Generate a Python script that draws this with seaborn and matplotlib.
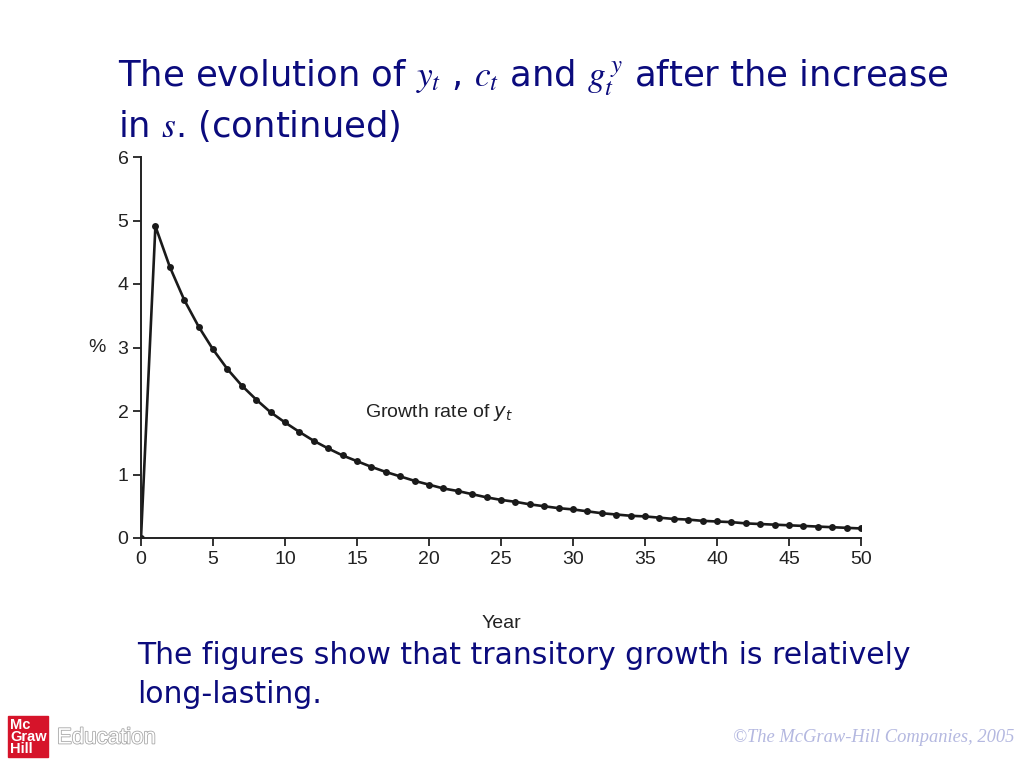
import matplotlib
matplotlib.use("Agg")
import matplotlib.pyplot as plt
import matplotlib.patheffects as pe
from matplotlib.patches import Rectangle
import seaborn as sns
import pandas as pd

# growth rate of y_t (%), years 0..50
years = list(range(0, 51))
growth = [0.00, 4.91, 4.27, 3.75, 3.33, 2.97, 2.66, 2.40, 2.18, 1.98,
          1.82, 1.67, 1.53, 1.41, 1.30, 1.21, 1.12, 1.04, 0.97, 0.90,
          0.84, 0.78, 0.74, 0.69, 0.64, 0.60, 0.57, 0.53, 0.50, 0.47,
          0.45, 0.42, 0.39, 0.37, 0.35, 0.34, 0.32, 0.30, 0.29, 0.27,
          0.26, 0.25, 0.23, 0.22, 0.21, 0.20, 0.19, 0.18, 0.17, 0.16,
          0.15]
x_ticks = [0, 5, 10, 15, 20, 25, 30, 35, 40, 45, 50]
y_ticks = [0, 1, 2, 3, 4, 5, 6]

title_1 = r"The evolution of $y_t$ , $c_t$ and $g_t^{\,y}$ after the increase"
title_2 = r"in $s$. (continued)"
caption = "The figures show that transitory growth is relatively\nlong-lasting."
navy = "#0b0b7d"
ink = "#222222"

df = pd.DataFrame({"Year": years, "growth": growth})

sns.set_style("white")
plt.rcParams["font.family"] = ["DejaVu Sans"]
plt.rcParams["mathtext.fontset"] = "stix"

fig = plt.figure(figsize=(10.24, 7.68), dpi=100)
ax = fig.add_axes([141 / 1024, 1 - 538 / 768, 720 / 1024, (538 - 157) / 768])

sns.lineplot(data=df, x="Year", y="growth", ax=ax, color="#1a1a1a",
             linewidth=1.9, marker="o", markersize=5, markeredgewidth=0)

ax.set_xlim(0, 50)
ax.set_ylim(0, 6)
ax.set_xticks(x_ticks)
ax.set_yticks(y_ticks)
ax.spines["top"].set_visible(False)
ax.spines["right"].set_visible(False)
for s in ["left", "bottom"]:
    ax.spines[s].set_linewidth(1.4)
    ax.spines[s].set_color(ink)
ax.tick_params(axis="both", direction="out", length=6, width=1.3,
               bottom=True, left=True, color=ink, labelsize=14,
               labelcolor=ink, labelfontfamily="Liberation Sans", pad=3)
ax.set_xlabel("Year", fontsize=14, family="Liberation Sans",
              color=ink, labelpad=34)
ax.set_ylabel("%", fontsize=14, family="Liberation Sans",
              color=ink, rotation=0, ha="center", va="center")
ax.yaxis.set_label_coords(-0.061, 0.5)

ax.text(15.55, 1.97, r"Growth rate of $y_t$", fontsize=14,
        family="Liberation Sans", math_fontfamily="dejavusans",
        color=ink, ha="left", va="center")

# slide text
fig.text(118 / 1024, 1 - 78 / 768, title_1, fontsize=25.5, color=navy,
         ha="left", va="center")
fig.text(118 / 1024, 1 - 126 / 768, title_2, fontsize=25.5, color=navy,
         ha="left", va="center")
fig.text(137 / 1024, 1 - 675 / 768, caption, fontsize=21.5, color=navy,
         ha="left", va="center", linespacing=1.42)

# footer
fig.patches.append(Rectangle((8 / 1024, 1 - 757 / 768), 40 / 1024, 41 / 768,
                             transform=fig.transFigure, color="#d6142a"))
fig.text(10 / 1024, 1 - 737 / 768, "Mc\nGraw\nHill", fontsize=10.5,
         color="white", weight="bold", family="Liberation Sans",
         ha="left", va="center", linespacing=0.78)
fig.text(57 / 1024, 1 - 738 / 768, "Education", fontsize=16,
         family="Liberation Sans", color="white", ha="left", va="center",
         path_effects=[pe.withStroke(linewidth=1.2, foreground="#a8a8a8")])
fig.text(1014 / 1024, 1 - 738 / 768, "\u00a9The McGraw-Hill Companies, 2005",
         fontsize=13.3, family="Liberation Serif", style="italic",
         color="#b4b8e0", ha="right", va="center")

fig.savefig("out.png", dpi=100, facecolor="white")
